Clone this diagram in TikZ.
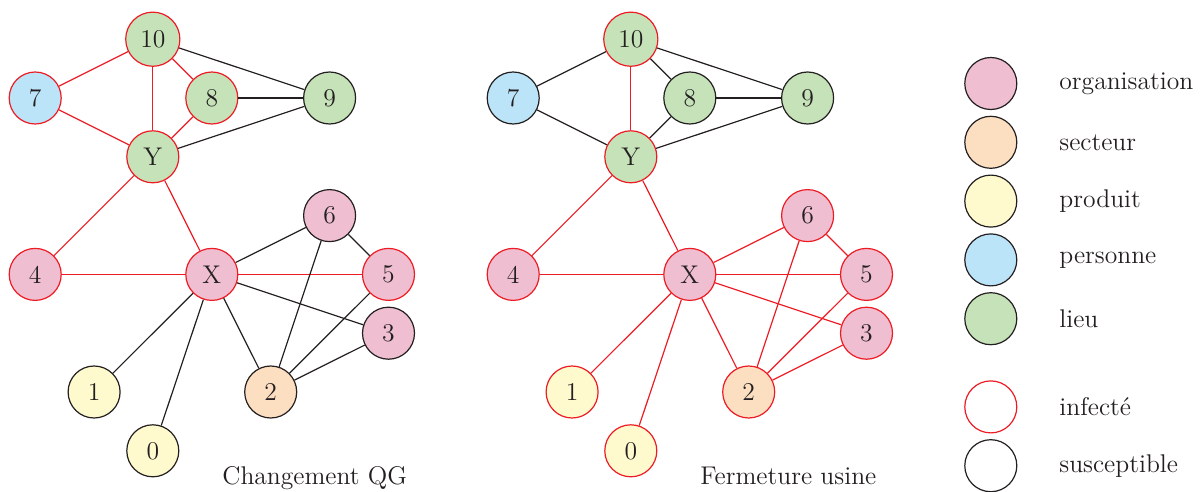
\documentclass[tikz,border=0pt]{standalone}
\usepackage{fontspec}
\definecolor{orgc}{RGB}{239,190,208}
\definecolor{secc}{RGB}{252,222,192}
\definecolor{proc}{RGB}{255,250,205}
\definecolor{perc}{RGB}{187,228,248}
\definecolor{lieuc}{RGB}{198,226,185}
\definecolor{infc}{RGB}{237,28,36}
\definecolor{susc}{RGB}{35,31,32}
\newcommand{\myfs}{\fontsize{12.8pt}{15pt}\selectfont}
\tikzset{
  vert/.style={circle, draw=susc, line width=0.6pt, minimum size=26pt, inner sep=4.2pt, font=\myfs, text=susc},
  org/.style={vert, fill=orgc},
  sec/.style={vert, fill=secc},
  pro/.style={vert, fill=proc},
  per/.style={vert, fill=perc},
  lieu/.style={vert, fill=lieuc},
  inf/.style={draw=infc},
  se/.style={draw=susc, line width=0.6pt},
  ie/.style={draw=infc, line width=0.6pt},
  lbl/.style={font=\myfs, text=susc, inner sep=0pt}
}
\begin{document}
\begin{tikzpicture}[x=0.5pt, y=-0.5pt]
\useasboundingbox (0,0) rectangle (1200,492);
% ---------- left graph ----------
\node[lieu, inf] (a10) at (152.8,39.2) {10};
\node[per, inf]  (a7)  at (35.2,98.0) {7};
\node[lieu, inf] (a8)  at (211.8,98.0) {8};
\node[lieu]      (a9)  at (329.6,98.0) {9};
\node[lieu, inf] (aY)  at (152.8,156.8) {Y};
\node[org]       (a6)  at (329.6,215.6) {6};
\node[org, inf]  (a4)  at (35.2,274.4) {4};
\node[org, inf]  (aX)  at (211.8,274.4) {X};
\node[org, inf]  (a5)  at (388.5,274.4) {5};
\node[org]       (a3)  at (388.5,333.2) {3};
\node[pro]       (a1)  at (94.1,392.0) {1};
\node[sec]       (a2)  at (270.7,392.0) {2};
\node[pro]       (a0)  at (152.8,450.8) {0};
\draw[ie] (a10) -- (a7);
\draw[ie] (a10) -- (aY);
\draw[ie] (a10) -- (a8);
\draw[se] (a10) -- (a9);
\draw[ie] (a7) -- (aY);
\draw[ie] (a8) -- (aY);
\draw[se] (a8) -- (a9);
\draw[se] (aY) -- (a9);
\draw[ie] (aY) -- (a4);
\draw[ie] (aY) -- (aX);
\draw[ie] (a4) -- (aX);
\draw[ie] (aX) -- (a5);
\draw[se] (aX) -- (a6);
\draw[se] (aX) -- (a3);
\draw[se] (aX) -- (a2);
\draw[se] (aX) -- (a1);
\draw[se] (aX) -- (a0);
\draw[se] (a6) -- (a5);
\draw[se] (a6) -- (a2);
\draw[se] (a5) -- (a2);
\draw[se] (a3) -- (a2);
\node[lbl, anchor=base west] (capa) at (222,484) {Changement QG};
% ---------- right graph ----------
\begin{scope}[shift={(478,0)}]
\node[lieu, inf] (b10) at (152.8,39.2) {10};
\node[per]       (b7)  at (35.2,98.0) {7};
\node[lieu]      (b8)  at (211.8,98.0) {8};
\node[lieu]      (b9)  at (329.6,98.0) {9};
\node[lieu, inf] (bY)  at (152.8,156.8) {Y};
\node[org, inf]  (b6)  at (329.6,215.6) {6};
\node[org, inf]  (b4)  at (35.2,274.4) {4};
\node[org, inf]  (bX)  at (211.8,274.4) {X};
\node[org, inf]  (b5)  at (388.5,274.4) {5};
\node[org, inf]  (b3)  at (388.5,333.2) {3};
\node[pro, inf]  (b1)  at (94.1,392.0) {1};
\node[sec, inf]  (b2)  at (270.7,392.0) {2};
\node[pro, inf]  (b0)  at (152.8,450.8) {0};
\draw[se] (b10) -- (b7);
\draw[ie] (b10) -- (bY);
\draw[se] (b10) -- (b8);
\draw[se] (b10) -- (b9);
\draw[se] (b7) -- (bY);
\draw[se] (b8) -- (bY);
\draw[se] (b8) -- (b9);
\draw[se] (bY) -- (b9);
\draw[ie] (bY) -- (b4);
\draw[ie] (bY) -- (bX);
\draw[ie] (b4) -- (bX);
\draw[ie] (bX) -- (b5);
\draw[ie] (bX) -- (b6);
\draw[ie] (bX) -- (b3);
\draw[ie] (bX) -- (b2);
\draw[ie] (bX) -- (b1);
\draw[ie] (bX) -- (b0);
\draw[ie] (b6) -- (b5);
\draw[ie] (b6) -- (b2);
\draw[ie] (b5) -- (b2);
\draw[ie] (b3) -- (b2);
\node[lbl, anchor=base west] (capb) at (222,484) {Fermeture usine};
\end{scope}
% ---------- legend ----------
\node[org]  (l1) at (990.8,83.5) {};
\node[sec]  (l2) at (990.8,142.3) {};
\node[pro]  (l3) at (990.8,201.1) {};
\node[per]  (l4) at (990.8,259.9) {};
\node[lieu] (l5) at (990.8,318.7) {};
\node[vert, inf] (l6) at (990.8,406.9) {};
\node[vert] (l7) at (990.8,465.7) {};
\node[lbl, anchor=west] (t1) at (1059,83.5) {organisation};
\node[lbl, anchor=west] (t2) at (1059,142.3) {secteur};
\node[lbl, anchor=west] (t3) at (1059,201.1) {produit};
\node[lbl, anchor=west] (t4) at (1059,259.9) {personne};
\node[lbl, anchor=west] (t5) at (1059,318.7) {lieu};
\node[lbl, anchor=west] (t6) at (1059,406.9) {infecté};
\node[lbl, anchor=west] (t7) at (1059,465.7) {susceptible};
\end{tikzpicture}
\end{document}
